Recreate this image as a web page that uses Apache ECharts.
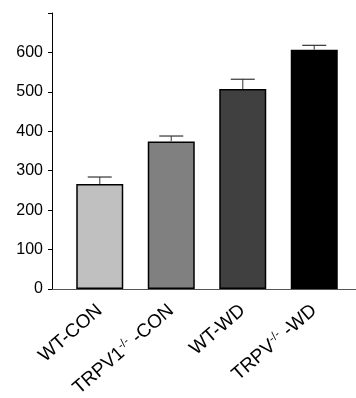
<!DOCTYPE html>
<html>
<head>
<meta charset="utf-8">
<script src="https://cdn.jsdelivr.net/npm/echarts@6/dist/echarts.min.js"></script>
<style>html,body{margin:0;padding:0;background:#fff}#c{width:356px;height:398px}</style>
</head>
<body>
<div id="c"></div>
<script>
const categories = ['WT-CON', 'TRPV1{s|-/-} -CON', 'WT-WD', 'TRPV{s|-/-} -WD'];
const means = [266, 374, 507, 607];
const errors = [18, 14, 25, 11];
const barColors = ['#c0c0c0', '#808080', '#404040', '#000000'];
const yMin = 0, yMax = 700, yStep = 100;

const chart = echarts.init(document.getElementById('c'));
const font = '"Liberation Sans", Arial, sans-serif';
chart.setOption({
  animation: false,
  grid: [
    { left: 64, right: 6, top: 13, bottom: 109, containLabel: false, outerBoundsMode: 'none' },
    { left: 52, right: 0, top: 13, bottom: 109, containLabel: false, outerBoundsMode: 'none' }
  ],
  xAxis: [{
    type: 'category', gridIndex: 0,
    data: categories,
    axisLine: { show: false },
    axisTick: { show: false },
    axisLabel: {
      rotate: 41, margin: 19, interval: 0,
      fontFamily: font, fontSize: 19, color: '#000',
      formatter: v => '{n|' + v.replace(/\{s\|([^}]*)\}/g, '}{s|$1}{n|') + '}',
      rich: {
        n: { fontFamily: font, fontSize: 19, color: '#000' },
        s: { fontFamily: font, fontSize: 12, color: '#000', verticalAlign: 'top', padding: [0, 0, 9, 0] }
      }
    }
  }, {
    type: 'value', gridIndex: 1, min: 0, max: 1,
    axisLine: { show: true, onZero: false, lineStyle: { color: '#555', width: 1 } },
    axisTick: { show: false }, axisLabel: { show: false }, splitLine: { show: false }
  }],
  yAxis: [{
    type: 'value', gridIndex: 0, min: yMin, max: yMax, interval: yStep,
    offset: 12,
    axisLine: { show: true, lineStyle: { color: '#000', width: 1 } },
    axisTick: { show: true, length: 4, lineStyle: { color: '#000' } },
    splitLine: { show: false },
    axisLabel: {
      margin: 9, fontFamily: font, fontSize: 16, color: '#000',
      formatter: v => v === yMax ? '' : String(v)
    }
  }, {
    type: 'value', gridIndex: 1, min: 0, max: 1, show: false
  }],
  series: [{
    type: 'bar', xAxisIndex: 0, yAxisIndex: 0,
    barWidth: 47,
    data: means.map((v, i) => ({
      value: v,
      itemStyle: { color: barColors[i], borderColor: '#000', borderWidth: 1.5 }
    }))
  }, {
    type: 'custom', xAxisIndex: 0, yAxisIndex: 0,
    data: means.map((v, i) => [i, v, errors[i]]),
    renderItem: (params, api) => {
      const x = api.value(0), m = api.value(1), e = api.value(2);
      const p0 = api.coord([x, m]);
      const p1 = api.coord([x, m + e]);
      const hw = 12;
      return {
        type: 'group',
        children: [
          { type: 'line', shape: { x1: p0[0], y1: p0[1], x2: p1[0], y2: p1[1] }, style: { stroke: '#555', lineWidth: 1.2 } },
          { type: 'line', shape: { x1: p1[0] - hw, y1: p1[1], x2: p1[0] + hw, y2: p1[1] }, style: { stroke: '#333', lineWidth: 1.2 } }
        ]
      };
    },
    z: 5
  }]
});
</script>
</body>
</html>
